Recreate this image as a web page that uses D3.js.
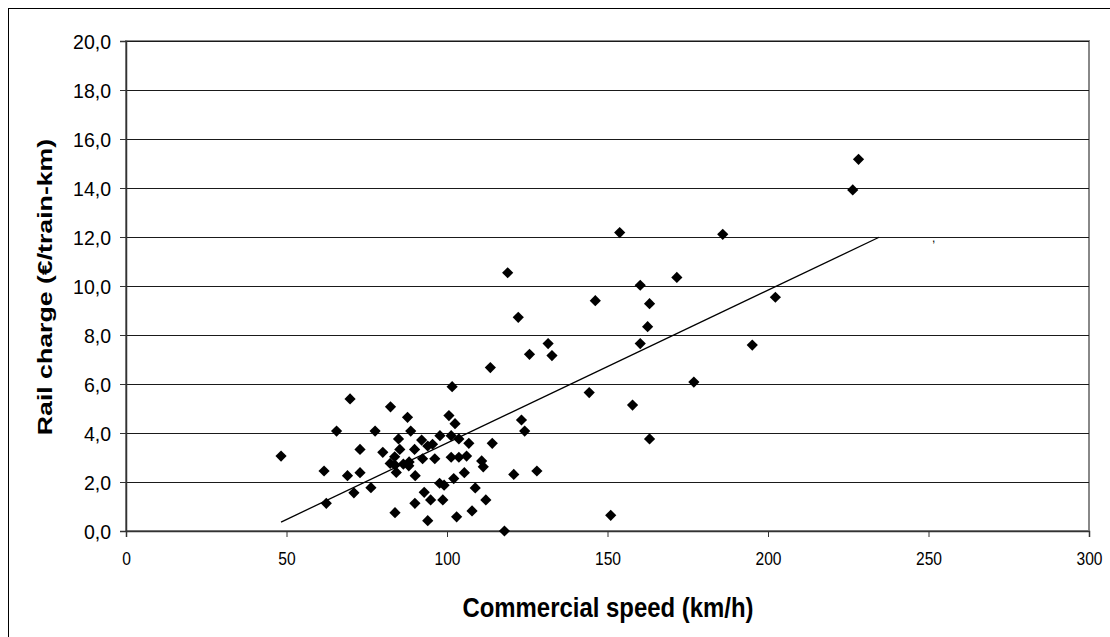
<!DOCTYPE html>
<html><head><meta charset="utf-8">
<script src="https://cdn.jsdelivr.net/npm/d3@7"></script>
<style>
html,body{margin:0;padding:0;background:#fff;overflow:hidden;}
text{font-family:Arial,"Liberation Sans",sans-serif;}
</style></head>
<body>
<svg id="chart" width="1110" height="637"></svg>
<script>
const speed = [48.3,61.7,62.4,65.6,69.8,69.0,72.9,72.9,71.0,76.3,77.6,80.0,82.4,83.7,82.3,83.8,86.4,88.2,88.1,84.2,83.8,84.9,85.3,87.7,88.7,89.9,90.1,90.0,92.1,92.4,92.9,94.0,95.5,94.9,94.0,96.2,97.8,97.7,99.1,98.7,100.6,101.6,101.3,102.5,103.7,101.3,103.7,106.1,106.8,102.1,105.4,103.0,107.8,108.8,110.8,111.3,112.1,114.1,113.5,117.9,120.8,123.2,124.2,128.0,118.9,122.2,125.7,131.5,132.7,144.3,146.2,153.8,151.0,157.8,160.2,163.1,162.5,160.2,163.1,171.6,176.9,185.9,195.1,202.3,226.4,228.2];
const charge = [3.06,2.45,1.13,4.08,5.39,2.26,3.33,2.38,1.56,1.77,4.08,3.21,5.07,3.03,2.76,2.69,2.73,2.82,2.66,2.39,0.75,3.76,3.33,4.64,4.08,3.33,2.26,1.13,3.71,2.95,1.58,3.47,3.54,1.27,0.42,2.95,3.89,1.95,1.87,1.27,4.71,5.89,3.89,4.38,3.76,3.01,3.01,3.06,3.58,2.14,2.38,0.58,0.82,1.76,2.86,2.62,1.27,3.58,6.67,0.0,2.31,4.53,4.08,2.45,10.54,8.72,7.21,7.65,7.16,5.65,9.40,12.18,0.64,5.14,10.03,9.28,8.34,7.65,3.76,10.35,6.08,12.11,7.59,9.54,13.92,15.17];
const trendSlope = 0.0624, trendIntercept = -2.65;
const trendRange = [48.3, 234.6];
const xTicks = [0,50,100,150,200,250,300];
const yTicks = [0,2,4,6,8,10,12,14,16,18,20];
const xTitle = "Commercial speed (km/h)";
const yTitle = "Rail charge (€/train-km)";

const svg = d3.select("#chart");
const L = 126, R = 1089, T = 41, B = 531;
const x = d3.scaleLinear().domain([0,300]).range([L,R]);
const y = d3.scaleLinear().domain([0,20]).range([B,T]);

// outer chart border (only top/left visible)
svg.append("rect").attr("x",8.5).attr("y",8.5).attr("width",1120).attr("height",650)
  .attr("fill","none").attr("stroke","#000").attr("stroke-width",1);

// plot area border
svg.append("rect").attr("x",L).attr("y",T).attr("width",R-L).attr("height",B-T)
  .attr("fill","none").attr("stroke","#888").attr("stroke-width",2);

// gridlines
svg.append("g").selectAll("line").data(yTicks.filter(d=>d>0)).join("line")
  .attr("x1",L).attr("x2",R).attr("y1",d=>Math.round(y(d))+0.5).attr("y2",d=>Math.round(y(d))+0.5)
  .attr("stroke","#1a1a1a").attr("stroke-width",1);

// axes
const fmt = d => d3.format(".1f")(d).replace(".",",");
const yAxis = svg.append("g").attr("transform",`translate(${L},0)`)
  .call(d3.axisLeft(y).tickValues(yTicks).tickFormat(fmt).tickSize(6).tickPadding(9));
const xAxis = svg.append("g").attr("transform",`translate(0,${B})`)
  .call(d3.axisBottom(x).tickValues(xTicks).tickSize(6).tickPadding(10));
[yAxis,xAxis].forEach(a=>{
  a.select(".domain").attr("stroke","#333").attr("stroke-width",1.5);
  a.selectAll(".tick line").attr("stroke","#333");
  a.selectAll(".tick text").attr("fill","#000")
   .style("font-family","Arial,'Liberation Sans',sans-serif");
});
yAxis.selectAll(".tick text").style("font-size","19.5px").attr("dy","0.36em");
xAxis.selectAll(".tick text").style("font-size","18.6px").attr("dy",null).attr("y",34)
  .attr("transform","scale(0.84,1)");

// trendline
svg.append("line")
  .attr("x1",x(trendRange[0])).attr("y1",y(trendSlope*trendRange[0]+trendIntercept))
  .attr("x2",x(trendRange[1])).attr("y2",y(trendSlope*trendRange[1]+trendIntercept))
  .attr("stroke","#000").attr("stroke-width",1.3);

// artifact of trend label
svg.append("text").attr("x",932).attr("y",242).text(",").style("font-size","12px").attr("fill","#000");

// points
const s = 5.6;
svg.append("g").selectAll("path").data(speed.map((d,i)=>[d,charge[i]])).join("path")
  .attr("transform",d=>`translate(${x(d[0])},${y(d[1])})`)
  .attr("d",`M0,${-s}L${s},0L0,${s}L${-s},0Z`)
  .attr("fill","#000");

// titles
svg.append("text").attr("transform",`translate(${608},617) scale(0.84,1)`).attr("text-anchor","middle")
  .style("font-size","28.5px").style("font-weight","bold").text(xTitle);
svg.append("text").attr("transform",`translate(52,${287}) rotate(-90) scale(1.27,1)`).attr("text-anchor","middle")
  .style("font-size","21px").style("font-weight","bold").text(yTitle);
</script>
</body></html>
